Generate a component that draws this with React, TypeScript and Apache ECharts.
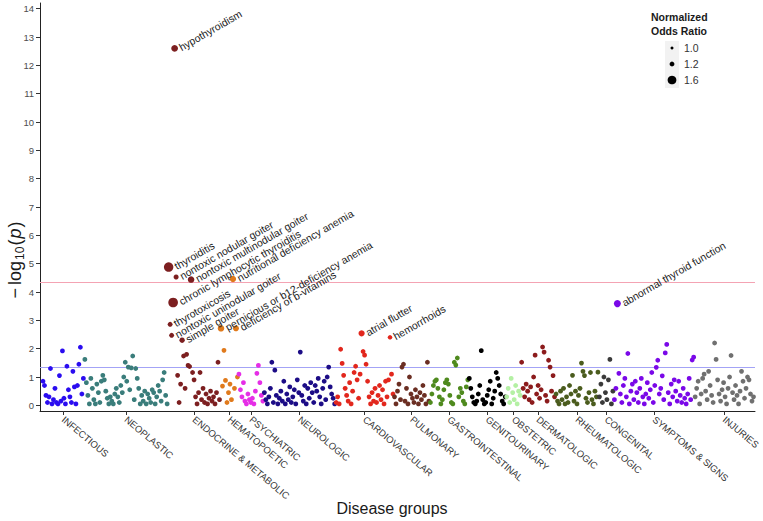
import React, { useEffect, useRef } from "react";
import * as echarts from "echarts";

// ---- Data ----
const groups = [
  "INFECTIOUS", "NEOPLASTIC", "ENDOCRINE & METABOLIC", "HEMATOPOETIC", "PSYCHIATRIC",
  "NEUROLOGIC", "CARDIOVASCULAR", "PULMONARY", "GASTROINTESTINAL", "GENITOURINARY",
  "OBSTETRIC", "DERMATOLOGIC", "RHEUMATOLOGIC", "CONGENITAL", "SYMPTOMS & SIGNS", "INJURIES",
];
const groupColors = [
  "#2a0cf0", "#3a7d7b", "#7c1f20", "#e07a1c", "#e52ee6",
  "#1c0c86", "#e2271d", "#6b2e22", "#4f8a1e", "#000000",
  "#b4f0a4", "#8c1b1c", "#4b5c1e", "#3a3a3a", "#7a08e8", "#707070",
];

const infectious = [0.85, 0.7, 0.35, 0.1, 0.3, 1.3, 0.05, 0.2, 0.6, 0.1, 0.05, 1.05, 0.15, 1.92, 0.25, 0.05, 1.38, 0.55, 0.3, 0.1, 1.2, 0.65, 0.05, 0.7, 1.45, 2.05, 0.4, 0.95];
const neoplastic = [1.62, 0.8, 0.35, 0.05, 0.95, 0.6, 0.2, 0.05, 0.75, 0.45, 0.1, 0.85, 1.06, 0.9, 0.5, 0.25, 0.05, 0.3, 0.15, 0.05, 0.4, 0.6, 0.3, 0.1, 0.7, 0.45, 1.0, 1.52, 0.85, 1.35, 0.55, 1.32, 1.74, 0.2, 1.3, 0.95, 0.6, 0.05, 0.35, 0.15, 0.5, 0.05, 0.4, 0.25, 0.1, 0.55, 0.45, 0.05, 0.3, 0.7, 0.5, 0.15, 0.9, 1.16, 0.35, 0.05];
const endocrine = [4.88, 2.86, 2.47, 3.63, 12.6, 4.53, 1.06, 0.1, 0.75, 2.3, 1.74, 0.6, 1.8, 1.41, 1.37, 4.44, 1.16, 0.9, 0.3, 0.05, 0.45, 1.16, 0.2, 0.6, 0.1, 0.4, 0.05, 0.25, 0.5, 0.15, 0.3, 0.05, 0.45, 1.52, 0.2];
const hematopoetic = [2.72, 0.68, 1.94, 0.88, 0.1, 0.45, 0.75, 0.2, 4.46, 0.6, 2.72, 1.0];
const psychiatric = [1.1, 0.55, 0.3, 0.8, 0.15, 0.05, 0.4, 0.2, 0.1, 0.25, 0.05, 0.5, 1.13, 1.41, 0.8, 0.35, 0.15];
const neurologic = [0.45, 0.2, 0.05, 0.3, 0.6, 1.52, 0.1, 1.24, 0.35, 0.05, 0.25, 0.5, 0.15, 0.85, 0.05, 0.4, 0.2, 0.65, 0.1, 0.3, 0.55, 0.05, 0.9, 0.45, 1.88, 0.35, 0.15, 0.7, 0.05, 0.6, 0.25, 0.8, 0.45, 0.1, 0.7, 0.5, 0.95, 0.3, 0.05, 0.6, 0.85, 0.2, 1.0, 1.35, 0.65, 0.4, 0.25, 0.05];
const cardiovascular = [0.1, 0.3, 0.05, 1.98, 1.48, 1.06, 0.6, 0.35, 0.15, 0.8, 0.05, 0.5, 1.16, 1.38, 0.9, 0.25, 1.1, 2.54, 1.9, 1.77, 1.45, 0.85, 0.3, 0.05, 0.45, 0.15, 0.6, 0.1, 0.35, 0.7, 0.2, 0.55, 0.05, 0.85, 0.3, 0.9, 2.4, 1.1, 0.4];
const pulmonary = [0.3, 0.05, 0.5, 0.75, 0.2, 1.35, 1.45, 0.15, 0.6, 0.05, 1.0, 0.4, 0.25, 0.1, 0.55, 0.3, 0.05, 0.45, 0.2, 0.7, 0.35, 0.05, 1.52, 0.15];
const gastrointestinal = [0.1, 0.4, 0.7, 0.85, 0.9, 0.6, 0.3, 0.05, 0.2, 0.55, 0.8, 0.9, 0.75, 0.35, 0.1, 0.05, 1.52, 1.42, 1.67, 0.3, 0.6, 0.45, 0.15, 0.05, 0.65, 0.9];
const genitourinary = [0.95, 0.6, 0.3, 0.1, 0.05, 0.15, 0.4, 0.7, 1.93, 0.2, 0.05, 0.1, 0.35, 0.55, 0.85, 0.05, 0.25, 0.5, 1.16, 0.95, 0.7, 0.4, 0.15, 0.05, 0.3];
const obstetric = [0.3, 0.6, 0.1, 0.95, 0.45, 0.2, 0.7, 0.05, 0.5, 0.35];
const dermatologic = [1.52, 0.6, 0.3, 0.75, 0.5, 0.2, 0.65, 0.1, 1.0, 1.77, 0.4, 0.7, 0.25, 0.55, 2.06, 1.88, 0.35, 0.15, 1.59, 1.35, 0.5, 1.05, 0.3];
const rheumatologic = [0.4, 0.15, 0.05, 0.5, 0.2, 0.6, 0.05, 0.3, 0.1, 0.7, 0.4, 1.06, 0.15, 0.5, 0.05, 0.35, 0.6, 1.49, 1.2, 1.05, 0.25, 0.1, 0.45, 1.16, 0.2, 0.05, 0.5, 0.3, 1.17];
const congenital = [0.3, 0.75, 0.1, 1.0, 0.45, 0.2, 0.9, 1.62, 0.05, 0.5];
const symptoms = [0.2, 0.6, 3.59, 1.13, 0.4, 0.1, 0.7, 0.95, 0.3, 1.83, 0.05, 0.5, 0.75, 0.2, 0.85, 0.45, 0.1, 0.6, 0.95, 0.3, 0.05, 0.4, 0.8, 0.25, 0.55, 1.16, 0.1, 0.7, 1.34, 1.59, 0.4, 0.6, 1.04, 0.2, 1.85, 2.15, 0.45, 0.05, 0.75, 0.3, 0.9, 0.5, 0.15, 0.85, 0.35, 0.1, 0.6, 0.25, 0.05, 0.4, 0.95, 0.2, 1.6, 1.7];
const injuries = [0.3, 0.6, 0.85, 0.05, 0.4, 0.95, 1.1, 0.5, 0.2, 1.2, 0.7, 0.35, 0.1, 2.2, 1.62, 0.9, 0.4, 0.15, 0.55, 0.8, 0.3, 0.05, 0.6, 1.0, 1.76, 0.45, 0.2, 0.7, 0.35, 0.05, 0.5, 1.2, 0.85, 0.25, 0.6, 1.0, 0.9, 0.4, 0.15, 0.3];

const groupValues = [
  infectious, neoplastic, endocrine, hematopoetic, psychiatric, neurologic, cardiovascular,
  pulmonary, gastrointestinal, genitourinary, obstetric, dermatologic, rheumatologic,
  congenital, symptoms, injuries,
];

// labelled phenotypes: group, index within group, name, normalized odds ratio
const highlights = [
  { group: 2, idx: 4, name: "hypothyroidism", or: 1.4 },
  { group: 2, idx: 0, name: "thyroiditis", or: 1.68 },
  { group: 2, idx: 5, name: "nontoxic nodular goiter", or: 1.22 },
  { group: 2, idx: 15, name: "nontoxic multinodular goiter", or: 1.38 },
  { group: 2, idx: 3, name: "chronic lymphocytic thyroiditis", or: 1.7 },
  { group: 2, idx: 1, name: "thyrotoxicosis", or: 1.2 },
  { group: 2, idx: 2, name: "nontoxic uninodular goiter", or: 1.2 },
  { group: 2, idx: 9, name: "simple goiter", or: 1.25 },
  { group: 3, idx: 8, name: "nutritional deficiency anemia", or: 1.35 },
  { group: 3, idx: 0, name: "pernicious or b12-deficiency anemia", or: 1.38 },
  { group: 3, idx: 10, name: "deficiency of b-vitamins", or: 1.32 },
  { group: 6, idx: 17, name: "atrial flutter", or: 1.34 },
  { group: 6, idx: 36, name: "hemorrhoids", or: 1.16 },
  { group: 14, idx: 2, name: "abnormal thyroid function", or: 1.42 },
];

const thresholds = [4.33, 1.33];
const thresholdColors = ["#f4a3b3", "#a3a3f6"];
const yTicks = [0, 1, 2, 3, 4, 5, 6, 7, 8, 9, 10, 11, 12, 13, 14];
const legendValues = [1.0, 1.2, 1.6];

const FONT = "'Liberation Sans', Arial, Helvetica, sans-serif";
const orSize = (or: number) => 3 + (or - 1) * 9.5;

export default function App() {
  const ref = useRef<HTMLDivElement>(null);

  useEffect(() => {
    if (!ref.current) return;
    const chart = echarts.init(ref.current, undefined, { renderer: "svg" });

    const starts: number[] = [];
    let acc = 0;
    groupValues.forEach((g) => {
      starts.push(acc);
      acc += g.length;
    });
    const total = acc;
    const centers = groupValues.map((g, i) => starts[i] + (g.length - 1) / 2);

    const series: any[] = groupValues.map((vals, gi) => ({
      type: "scatter",
      name: groups[gi],
      symbol: "circle",
      symbolSize: 4.8,
      itemStyle: { color: groupColors[gi], opacity: 1 },
      z: 2,
      data: vals.map((v, i) => {
        const h = highlights.find((d) => d.group === gi && d.idx === i);
        if (!h) return [starts[gi] + i, v];
        return {
          value: [starts[gi] + i, v],
          symbolSize: orSize(h.or),
          label: {
            show: true,
            formatter: h.name,
            position: "right",
            distance: 2,
            rotate: 30,
            fontSize: 10.5,
            fontFamily: FONT,
            color: "#1a1a1a",
          },
        };
      }),
    }));

    series.push({
      type: "scatter",
      data: [],
      markLine: {
        silent: true,
        symbol: "none",
        label: { show: false },
        z: 1,
        data: thresholds.map((t, i) => ({
          yAxis: t,
          lineStyle: { color: thresholdColors[i], width: 1, type: "solid" },
        })),
      },
    });

    const legendItems: any[] = [];
    legendValues.forEach((v, i) => {
      legendItems.push({
        type: "circle",
        shape: { cx: 672, cy: 48 + i * 16, r: orSize(v) / 2 },
        style: { fill: "#000" },
      });
      legendItems.push({
        type: "text",
        x: 684,
        y: 48 + i * 16,
        style: {
          text: v.toFixed(1),
          fontSize: 10.5,
          fontFamily: FONT,
          fill: "#333",
          verticalAlign: "middle",
        },
      });
    });

    chart.setOption({
      animation: false,
      grid: { left: 40, right: 3, top: 3, bottom: 110, containLabel: false },
      xAxis: {
        type: "value",
        min: -2,
        max: total,
        splitLine: { show: false },
        axisLine: { show: true, onZero: false, lineStyle: { color: "#222", width: 1 } },
        axisTick: { show: true, customValues: centers, length: 4, lineStyle: { color: "#333" } },
        axisLabel: {
          customValues: centers,
          rotate: -40,
          margin: 7,
          fontSize: 9.5,
          fontFamily: FONT,
          color: "#333",
          formatter: (val: number) => {
            let best = 0;
            centers.forEach((c, i) => {
              if (Math.abs(c - val) < Math.abs(centers[best] - val)) best = i;
            });
            return groups[best];
          },
        },
      },
      yAxis: {
        type: "value",
        min: -0.2,
        max: 14.2,
        splitLine: { show: false },
        axisLine: { show: true, onZero: false, lineStyle: { color: "#222", width: 1 } },
        axisTick: { show: true, customValues: yTicks, length: 4, lineStyle: { color: "#333" } },
        axisLabel: {
          customValues: yTicks,
          fontSize: 9.5,
          fontFamily: FONT,
          color: "#4d4d4d",
          margin: 6,
        },
      },
      series,
      graphic: [
        {
          type: "text",
          x: 392,
          y: 508,
          style: {
            text: "Disease groups",
            fontSize: 16,
            fontFamily: FONT,
            fill: "#1a1a1a",
            align: "center",
            verticalAlign: "middle",
          },
        },
        {
          type: "text",
          x: 15,
          y: 260,
          rotation: Math.PI / 2,
          style: {
            text: "{m|−}{a|log}{s|10}{a|(}{i|p}{a|)}",
            align: "center",
            verticalAlign: "middle",
            rich: {
              m: { fontSize: 18, fontFamily: FONT, fill: "#1a1a1a", padding: [0, 3, 0, 0] },
              a: { fontSize: 18, fontFamily: FONT, fill: "#1a1a1a" },
              s: { fontSize: 12, fontFamily: FONT, fill: "#1a1a1a", padding: [9, 1, 0, 1] },
              i: { fontSize: 18, fontFamily: FONT, fontStyle: "italic", fill: "#1a1a1a", padding: [0, 1, 0, 1] },
            },
          },
        },
        {
          type: "text",
          x: 651,
          y: 10,
          style: {
            text: "Normalized\nOdds Ratio",
            fontSize: 10.5,
            fontWeight: "bold",
            fontFamily: FONT,
            fill: "#1a1a1a",
            lineHeight: 14,
          },
        },
        {
          type: "rect",
          shape: { x: 665, y: 41, width: 14, height: 47 },
          style: { fill: "#f2f2f2" },
        },
        ...legendItems,
      ],
    });

    return () => chart.dispose();
  }, []);

  return (
    <div
      ref={ref}
      style={{ position: "fixed", left: 0, top: 0, width: 763, height: 521, background: "#fff" }}
    />
  );
}
